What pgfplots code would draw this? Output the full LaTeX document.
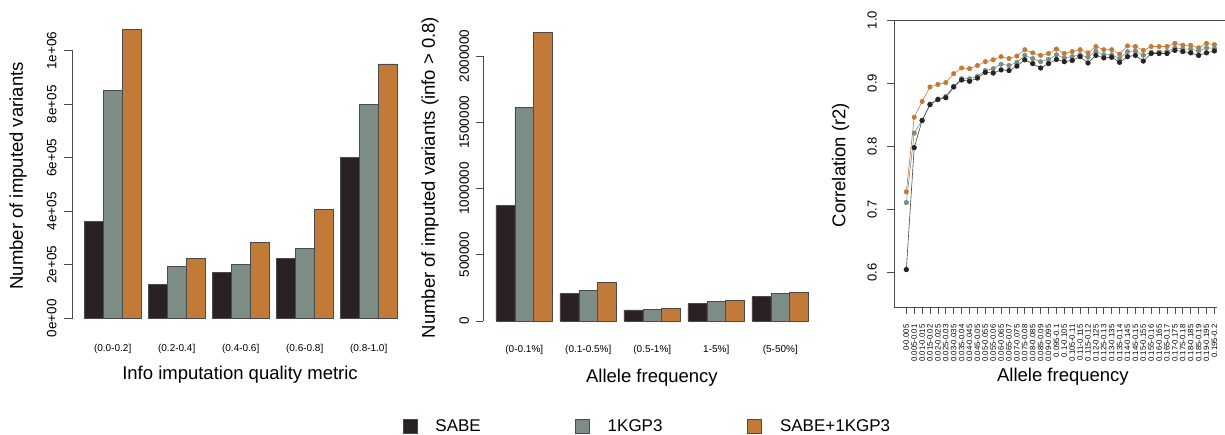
\documentclass[border=0pt]{standalone}
\usepackage{pgfplots}
\usepackage{pgfplotstable}
\pgfplotsset{compat=1.18}
\usepackage{fontspec}
\setmainfont{Liberation Sans}

\definecolor{sabe}{HTML}{2A2222}
\definecolor{kgp}{HTML}{7B8D85}
\definecolor{comb}{HTML}{C27A38}
\definecolor{axgray}{HTML}{4A4A4A}

% Imputed variants per info-score bin
\pgfplotstableread{
x   sabe    kgp     comb
40  362000  851000  1080000
104 127000  193000  224000
168 170000  202000  284000
232 225000  262000  407000
296 600000  800000  951000
}\infotab

% Imputed variants with info > 0.8 per allele-frequency bin
\pgfplotstableread{
x   sabe    kgp     comb
41  870000  1613000 2179000
105 206000  231000  289000
169 83000   88000   93000
233 131000  149000  156000
297 183000  211000  216000
}\afttab

% Imputation accuracy per MAF bin (0.005 wide)
\pgfplotstableread{
i  sabe   kgp    comb
1  0.605  0.711  0.728
2  0.798  0.821  0.846
3  0.841  0.841  0.871
4  0.866  0.867  0.894
5  0.874  0.875  0.898
6  0.877  0.879  0.901
7  0.894  0.895  0.915
8  0.905  0.907  0.924
9  0.903  0.907  0.923
10 0.908  0.911  0.928
11 0.917  0.920  0.934
12 0.916  0.923  0.937
13 0.921  0.930  0.942
14 0.920  0.928  0.939
15 0.927  0.933  0.943
16 0.937  0.944  0.953
17 0.931  0.939  0.948
18 0.924  0.934  0.944
19 0.931  0.9375 0.947
20 0.9375 0.945  0.954
21 0.934  0.940  0.947
22 0.936  0.942  0.950
23 0.942  0.945  0.953
24 0.932  0.941  0.948
25 0.944  0.9505 0.958
26 0.940  0.945  0.953
27 0.941  0.945  0.953
28 0.933  0.939  0.946
29 0.942  0.950  0.959
30 0.944  0.951  0.958
31 0.935  0.944  0.952
32 0.947  0.949  0.958
33 0.947  0.949  0.958
34 0.947  0.950  0.958
35 0.952  0.956  0.963
36 0.950  0.954  0.960
37 0.948  0.954  0.960
38 0.944  0.951  0.956
39 0.948  0.956  0.963
40 0.951  0.955  0.961
}\cortab

\pgfplotsset{
  every axis/.append style={
    scale only axis, clip=false,
    /pgf/number format/assume math mode=true,
    label style={font=\fontsize{18.5}{20}\selectfont},
  },
  barpanel/.style={
    width=330pt, xmin=0, xmax=330, ymin=0,
    ybar=0pt, bar width=18.9,
    axis line style={draw=none},
    xtick=data, xtick style={draw=none},
    xticklabel style={font=\fontsize{10}{12}\selectfont, anchor=north, inner sep=0pt, yshift=-17pt},
    ytick pos=left,
    ytick style={axgray, line width=0.7pt},
    tick align=outside,
    yticklabel style={font=\fontsize{13.5}{15}\selectfont, rotate=90, anchor=south, inner sep=0pt},
    scaled y ticks=false,
    every axis plot/.append style={draw=axgray, line width=0.7pt},
  },
}

\begin{document}
\begin{tikzpicture}
\useasboundingbox (0,0) rectangle (1225pt,435pt);

% ---- Panel 1: counts by info score ----
\begin{axis}[barpanel,
  at={(72.7pt,116.7pt)}, anchor=south west,
  height=294.25pt, ymax=1100000,
  major tick length=9pt,
  yticklabel style={yshift=7pt},
  xticklabels={{(0.0-0.2]},{(0.2-0.4]},{(0.4-0.6]},{(0.6-0.8]},{(0.8-1.0]}},
  ytick={0,200000,400000,600000,800000,1000000},
  yticklabels={0e+00,2e+05,4e+05,6e+05,8e+05,1e+06},
  xlabel={Info imputation quality metric},
  xlabel style={at={(axis description cs:0.507,0)}, anchor=center, yshift=-56.7pt},
  ylabel={Number of imputed variants},
  ylabel style={at={(axis description cs:0,0.484)}, anchor=center, yshift=54.7pt},
]
\addplot[fill=sabe] table[x=x, y=sabe] {\infotab};
\addplot[fill=kgp]  table[x=x, y=kgp]  {\infotab};
\addplot[fill=comb] table[x=x, y=comb] {\infotab};
\draw[axgray, line width=0.7pt] (axis cs:0,0) -- (axis cs:0,1000000);
\end{axis}

% ---- Panel 2: well-imputed counts by allele frequency ----
\begin{axis}[barpanel,
  at={(483.3pt,114pt)}, anchor=south west,
  height=291.5pt, ymax=2200000,
  major tick length=7pt,
  yticklabel style={yshift=7pt},
  xticklabels={{(0-0.1\%]},{(0.1-0.5\%]},{(0.5-1\%]},{1-5\%]},{(5-50\%]}},
  ytick={0,500000,1000000,1500000,2000000},
  yticklabels={0,500000,1000000,1500000,2000000},
  xlabel={Allele frequency},
  xlabel style={at={(axis description cs:0.511,0)}, anchor=center, yshift=-57pt},
  ylabel={Number of imputed variants (info > 0.8)},
  ylabel style={at={(axis description cs:0,0.492)}, anchor=center, yshift=53.3pt},
  legend columns=3,
  area legend,
  legend image code/.code={\draw[#1, line width=0.7pt] (0pt,-7pt) rectangle (14pt,7pt);},
  legend style={at={(axis description cs:-0.2442,-0.3602)}, anchor=west,
    draw=none, fill=none, inner sep=0pt, outer sep=0pt,
    font=\fontsize{17}{19}\selectfont,
    nodes={inner sep=0pt},
    /tikz/every odd column/.append style={column sep=18pt},
    /tikz/every even column/.append style={column sep=0pt}},
]
\addplot[fill=sabe] table[x=x, y=sabe] {\afttab};
\addplot[fill=kgp]  table[x=x, y=kgp]  {\afttab};
\addplot[fill=comb] table[x=x, y=comb] {\afttab};
\legend{\makebox[139.6pt][l]{SABE},\makebox[139.6pt][l]{1KGP3},SABE+1KGP3}
\draw[axgray, line width=0.7pt] (axis cs:0,0) -- (axis cs:0,2000000);
\end{axis}

% ---- Panel 3: r2 by fine MAF bin ----
\begin{axis}[
  at={(894pt,127.7pt)}, anchor=south west,
  width=323pt, height=287.3pt,
  xmin=-0.557, xmax=40.33, ymin=0.5453, ymax=1.0,
  axis x line*=bottom, axis y line*=left,
  axis line style={axgray, line width=0.7pt},
  tick style={axgray, line width=0.7pt},
  tick align=outside, major tick length=7pt,
  xtick={1,...,40},
  xticklabels={0-0.005,0.005-0.01,0.01-0.015,0.015-0.02,0.02-0.025,0.025-0.03,0.03-0.035,0.035-0.04,0.04-0.045,0.045-0.05,0.05-0.055,0.055-0.06,0.06-0.065,0.065-0.07,0.07-0.075,0.075-0.08,0.08-0.085,0.085-0.09,0.09-0.095,0.095-0.1,0.1-0.105,0.105-0.11,0.11-0.115,0.115-0.12,0.12-0.125,0.125-0.13,0.13-0.135,0.135-0.14,0.14-0.145,0.145-0.15,0.15-0.155,0.155-0.16,0.16-0.165,0.165-0.17,0.17-0.175,0.175-0.18,0.18-0.185,0.185-0.19,0.19-0.195,0.195-0.2},
  xticklabel style={font=\fontsize{7.8}{8}\selectfont, rotate=90, anchor=east, inner sep=0pt, xshift=-10pt},
  ytick={0.6,0.7,0.8,0.9,1.0},
  yticklabels={0.6,0.7,0.8,0.9,1.0},
  yticklabel style={font=\fontsize{13}{15}\selectfont, rotate=90, anchor=south, inner sep=0pt, yshift=10pt},
  xlabel={Allele frequency},
  xlabel style={at={(axis description cs:0.523,0)}, anchor=center, yshift=-69.4pt},
  ylabel={Correlation (r2)},
  ylabel style={at={(axis description cs:0,0.495)}, anchor=center, yshift=53.5pt},
]
\addplot[comb, line width=0.6pt, mark=*, mark size=2.2pt, mark options={fill=comb, draw=comb}] table[x=i, y=comb] {\cortab};
\addplot[kgp, line width=0.6pt, mark=*, mark size=2.2pt, mark options={fill=kgp, draw=kgp}] table[x=i, y=kgp] {\cortab};
\addplot[sabe!85!white, line width=0.6pt, mark=*, mark size=2.3pt, mark options={fill=sabe, draw=sabe}] table[x=i, y=sabe] {\cortab};
\draw[axgray, line width=0.7pt] (rel axis cs:0,1) -- (rel axis cs:1.04,1);
\end{axis}
\end{tikzpicture}
\end{document}
